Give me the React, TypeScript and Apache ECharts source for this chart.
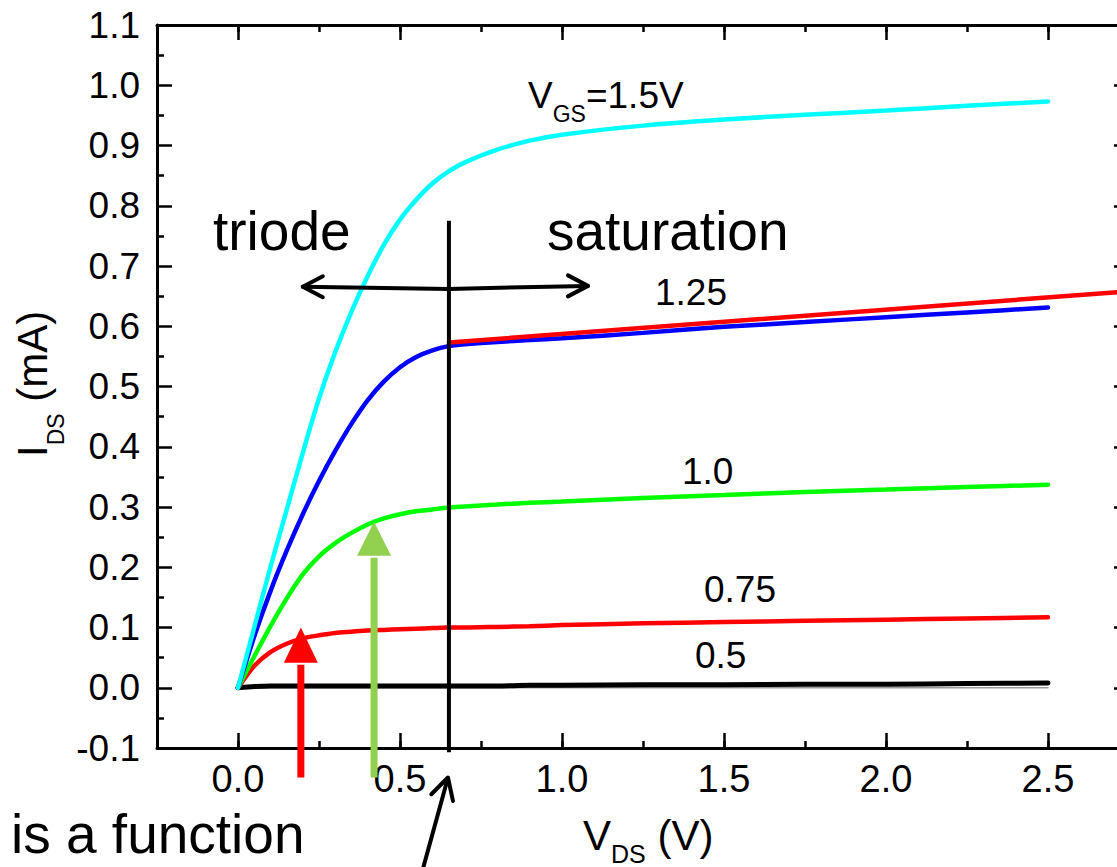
import React, { useEffect, useRef } from "react";
import * as echarts from "echarts";

// ---- data ----
const VDS = [0, 0.05, 0.1, 0.15, 0.2, 0.25, 0.3, 0.35, 0.4, 0.45, 0.5, 0.55, 0.6, 0.65, 0.7, 0.8, 0.9, 1.0, 1.25, 1.5, 1.75, 2.0, 2.25, 2.5];
const ID_VGS_150 = [0, 0.1, 0.2, 0.295, 0.39, 0.48, 0.557, 0.624, 0.683, 0.735, 0.777, 0.81, 0.837, 0.857, 0.872, 0.893, 0.908, 0.918, 0.933, 0.943, 0.951, 0.958, 0.966, 0.973];
const ID_VGS_125 = [0, 0.085, 0.16, 0.227, 0.288, 0.343, 0.393, 0.438, 0.477, 0.508, 0.532, 0.549, 0.56, 0.567, 0.57, 0.574, 0.577, 0.58, 0.589, 0.599, 0.607, 0.615, 0.623, 0.631];
const ID_VGS_100 = [0, 0.052, 0.102, 0.148, 0.188, 0.218, 0.24, 0.257, 0.271, 0.281, 0.288, 0.293, 0.296, 0.299, 0.301, 0.304, 0.307, 0.309, 0.315, 0.32, 0.325, 0.329, 0.333, 0.337];
const ID_VGS_075 = [0, 0.036, 0.059, 0.073, 0.082, 0.087, 0.091, 0.093, 0.095, 0.096, 0.097, 0.098, 0.099, 0.1, 0.1, 0.101, 0.102, 0.104, 0.107, 0.109, 0.111, 0.113, 0.115, 0.117];
const ID_VGS_050 = [0, 0.002, 0.003, 0.003, 0.003, 0.003, 0.003, 0.003, 0.003, 0.003, 0.003, 0.003, 0.003, 0.003, 0.003, 0.003, 0.004, 0.004, 0.005, 0.005, 0.006, 0.006, 0.007, 0.008];
const FIT_125_X = [0.651, 2.75];
const FIT_125_Y = [0.573, 0.658];
const ZERO_X = [0, 2.5];
const ZERO_Y = [0, 0];
const X_MAJOR = [0, 0.5, 1.0, 1.5, 2.0, 2.5];
const V_SAT = 0.651; // triode/saturation boundary

const FONT = "'Liberation Sans', Arial, Helvetica, sans-serif";

const W: Record<string, number> = {
  V: 0.667, G: 0.778, S: 0.667, D: 0.722, I: 0.278, " ": 0.278, "(": 0.333, ")": 0.333,
  m: 0.833, A: 0.667, "=": 0.584, "1": 0.556, ".": 0.278, "5": 0.556,
};
const tw = (s: string, fs: number) => s.split("").reduce((a, c) => a + (W[c] ?? 0.556), 0) * fs;

function txt(x: number, yBase: number, s: string, fs: number, extra: any = {}) {
  return {
    type: "text",
    x,
    y: yBase - 0.3465 * fs,
    z: 100,
    style: { text: s, fontSize: fs, fontFamily: FONT, fill: "#000", align: "left", verticalAlign: "middle", ...extra },
  };
}

// main + subscript + rest, baseline based
function subTxt(x: number, yBase: number, main: string, sub: string, rest: string, fs: number, sfs: number, drop: number) {
  const out: any[] = [];
  out.push(txt(x, yBase, main, fs));
  const x2 = x + tw(main, fs);
  out.push(txt(x2, yBase + drop, sub, sfs));
  const x3 = x2 + tw(sub, sfs);
  if (rest) out.push(txt(x3, yBase, rest, fs));
  return out;
}

const zip = (xs: number[], ys: number[]) => xs.map((x, i) => [x, ys[i]]);

export default function App() {
  const ref = useRef<HTMLDivElement>(null);
  useEffect(() => {
    if (!ref.current) return;
    const chart = echarts.init(ref.current, undefined, { renderer: "svg" });
    const axisLineStyle = { color: "#000", width: 3 };
    const tickStyle = { color: "#000", width: 2.5 };
    const xBase = { type: "value", min: -0.25, max: 2.75, gridIndex: 0, splitLine: { show: false } };
    const lineSeries = (data: number[][], color: string, width: number, z = 2) => ({
      type: "line",
      data,
      xAxisIndex: 0,
      yAxisIndex: 0,
      showSymbol: false,
      symbol: "none",
      smooth: 0.25,
      z,
      lineStyle: { color, width, cap: "round" },
    });
    chart.setOption({
      animation: false,
      backgroundColor: "#fff",
      grid: { left: 157, top: 25, width: 972, height: 723, containLabel: false, outerBoundsMode: "none" },
      xAxis: [
        {
          ...xBase,
          position: "bottom",
          axisLine: { show: true, onZero: false, lineStyle: axisLineStyle },
          axisTick: { show: true, inside: true, length: 15, lineStyle: tickStyle, customValues: X_MAJOR },
          axisLabel: {
            show: true,
            customValues: X_MAJOR,
            formatter: (v: number) => v.toFixed(1),
            fontSize: 38,
            fontFamily: FONT,
            color: "#000",
            margin: 12,
          },
        },
        {
          ...xBase,
          interval: 0.25,
          position: "bottom",
          axisLine: { show: false, onZero: false },
          axisTick: { show: true, inside: true, length: 7, lineStyle: tickStyle },
          axisLabel: { show: false },
        },
        {
          ...xBase,
          position: "top",
          axisLine: { show: true, onZero: false, lineStyle: axisLineStyle },
          axisTick: { show: true, inside: true, length: 15, lineStyle: tickStyle, customValues: X_MAJOR },
          axisLabel: { show: false },
        },
        {
          ...xBase,
          interval: 0.25,
          position: "top",
          axisLine: { show: false, onZero: false },
          axisTick: { show: true, inside: true, length: 7, lineStyle: tickStyle },
          axisLabel: { show: false },
        },
      ],
      yAxis: [
        {
          type: "value",
          min: -0.1,
          max: 1.1,
          interval: 0.1,
          position: "left",
          splitLine: { show: false },
          axisLine: { show: true, onZero: false, lineStyle: axisLineStyle },
          axisTick: { show: true, inside: true, length: 15, lineStyle: tickStyle },
          minorTick: { show: true, splitNumber: 2, length: 7, lineStyle: tickStyle },
          axisLabel: { formatter: (v: number) => v.toFixed(1), fontSize: 37, fontFamily: FONT, color: "#000", margin: 17 },
        },
        {
          type: "value",
          min: -0.1,
          max: 1.1,
          interval: 0.1,
          position: "right",
          splitLine: { show: false },
          axisLine: { show: true, onZero: false, lineStyle: axisLineStyle },
          axisTick: { show: true, inside: true, length: 15, lineStyle: tickStyle },
          minorTick: { show: true, splitNumber: 2, length: 7, lineStyle: tickStyle },
          axisLabel: { show: false },
        },
      ],
      series: [
        { ...lineSeries(zip(ZERO_X, ZERO_Y), "#9a9a9a", 1.5, 1), smooth: false },
        lineSeries(zip(VDS, ID_VGS_050), "#000000", 5),
        lineSeries(zip(VDS, ID_VGS_075), "#ff0000", 4.5),
        lineSeries(zip(VDS, ID_VGS_100), "#00ff00", 4.5),
        lineSeries(zip(VDS, ID_VGS_125), "#0000ff", 4.5),
        lineSeries(zip(VDS, ID_VGS_150), "#00ffff", 4.5),
        { ...lineSeries(zip(FIT_125_X, FIT_125_Y), "#ff0000", 4.5, 3), smooth: false },
      ],
    });

    const P = (x: number, y: number) => chart.convertToPixel({ xAxisIndex: 0, yAxisIndex: 0 }, [x, y]) as number[];
    const g: any[] = [];
    const blk = { stroke: "#000", lineWidth: 4, fill: null, lineCap: "round", lineJoin: "round" };

    // boundary line
    const vt = P(V_SAT, 0.775), vb = P(V_SAT, -0.107);
    g.push({ type: "line", z: 50, shape: { x1: vt[0], y1: vt[1], x2: vb[0], y2: vb[1] }, style: { stroke: "#000", lineWidth: 4 } });

    // double arrow
    const L = P(0.2, 0.6656), C = P(V_SAT, 0.662), R = P(1.08, 0.667);
    g.push({ type: "polyline", z: 50, shape: { points: [L, C, R] }, style: blk });
    g.push({ type: "polyline", z: 50, shape: { points: [[L[0] + 20, L[1] - 10.5], L, [L[0] + 20, L[1] + 10.5]] }, style: blk });
    g.push({ type: "polyline", z: 50, shape: { points: [[R[0] - 20, R[1] - 10.5], R, [R[0] - 20, R[1] + 10.5]] }, style: blk });

    // vertical arrows
    const upArrow = (xv: number, tipY: number, baseY: number, botY: number, color: string) => {
      const t = P(xv, tipY), b = P(xv, baseY), bot = P(xv, botY);
      g.push({ type: "line", z: 50, shape: { x1: bot[0], y1: bot[1], x2: b[0], y2: b[1] + 2 }, style: { stroke: color, lineWidth: 7 } });
      g.push({ type: "polygon", z: 50, shape: { points: [t, [b[0] - 17, b[1]], [b[0] + 17, b[1]]] }, style: { fill: color } });
    };
    upArrow(0.194, 0.1, 0.0415, -0.149, "#ff0000");
    upArrow(0.42, 0.2755, 0.219, -0.149, "#92d050");

    // black arrow at bottom
    const tip = P(0.648, -0.149), tail = P(0.571, -0.3);
    g.push({ type: "line", z: 50, shape: { x1: tail[0], y1: tail[1], x2: tip[0] - 0.5, y2: tip[1] + 2 }, style: { stroke: "#000", lineWidth: 4, lineCap: "round" } });
    g.push({ type: "polyline", z: 50, shape: { points: [[tip[0] - 16.6, tip[1] + 16.7], tip, [tip[0] + 5, tip[1] + 23.4]] }, style: blk });

    // region texts
    g.push(txt(213, 250, "triode", 55));
    g.push(txt(547, 250, "saturation", 55));
    g.push(txt(11, 853, "is a function", 55));
    g.push(txt(349, 906, "V", 55));

    // curve labels
    g.push(...subTxt(528, 108, "V", "GS", "=1.5V", 37, 23, 14));
    g.push(txt(655, 305, "1.25", 37));
    g.push(txt(682, 484, "1.0", 37));
    g.push(txt(704, 602, "0.75", 37));
    g.push(txt(695, 668, "0.5", 37));

    // axis titles
    g.push(...subTxt(583, 850, "V", "DS", " (V)", 42, 25, 13));
    g.push({
      type: "group",
      x: 47,
      y: 457,
      rotation: Math.PI / 2,
      children: subTxt(0, 0, "I", "DS", " (mA)", 42, 23, 17),
    });

    chart.setOption({ graphic: g });
    return () => chart.dispose();
  }, []);
  return <div ref={ref} style={{ position: "fixed", left: 0, top: 0, width: 1117, height: 867, background: "#fff" }} />;
}
